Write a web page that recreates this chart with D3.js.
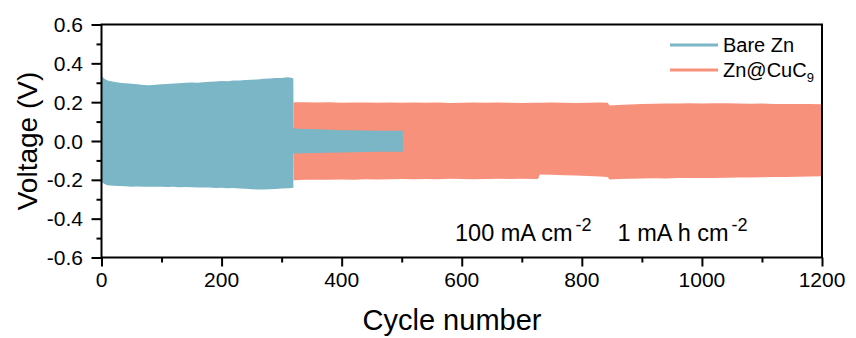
<!DOCTYPE html>
<html>
<head>
<meta charset="utf-8">
<script src="https://cdn.jsdelivr.net/npm/d3@7"></script>
<style>
  html, body { margin: 0; padding: 0; background: #fff; }
  svg { display: block; font-family: "Liberation Sans", Arial, sans-serif; }
</style>
</head>
<body>
<svg id="chart" width="856" height="338"></svg>
<script>
// ---- data ----
const xTicks = [0, 200, 400, 600, 800, 1000, 1200];
const yTicks = [-0.6, -0.4, -0.2, 0.0, 0.2, 0.4, 0.6];

// Bare Zn: envelope of the voltage oscillation (upper / lower)
const bareCycles = [0, 2, 5, 10, 20, 30, 40, 50, 60, 70, 80, 90, 100, 110, 120, 130, 140, 150, 160, 170, 180, 190, 200, 210, 220, 230, 240, 250, 260, 270, 280, 290, 300, 310, 318, 319.5, 320, 340, 360, 380, 400, 420, 440, 460, 480, 502];
const bareUpper  = [0.335, 0.33, 0.32, 0.312, 0.305, 0.300, 0.298, 0.295, 0.292, 0.288, 0.287, 0.290, 0.292, 0.293, 0.296, 0.298, 0.300, 0.301, 0.300, 0.303, 0.305, 0.307, 0.309, 0.308, 0.311, 0.312, 0.314, 0.316, 0.317, 0.320, 0.322, 0.324, 0.325, 0.328, 0.325, 0.32, 0.065, 0.062, 0.060, 0.058, 0.056, 0.055, 0.054, 0.053, 0.053, 0.053];
const bareLower  = [-0.205, -0.215, -0.222, -0.228, -0.230, -0.232, -0.233, -0.235, -0.234, -0.236, -0.235, -0.236, -0.236, -0.237, -0.236, -0.238, -0.237, -0.238, -0.239, -0.240, -0.240, -0.242, -0.241, -0.243, -0.242, -0.244, -0.246, -0.248, -0.250, -0.250, -0.249, -0.247, -0.245, -0.243, -0.242, -0.24, -0.065, -0.063, -0.062, -0.060, -0.059, -0.058, -0.057, -0.056, -0.056, -0.056];

// Zn@CuC9: envelope of the voltage oscillation (upper / lower)
const cucCycles = [320, 340, 360, 380, 400, 420, 440, 460, 480, 500, 520, 540, 560, 580, 600, 620, 640, 660, 680, 700, 720, 727, 730, 750, 770, 790, 810, 830, 843, 846, 860, 880, 900, 920, 940, 960, 980, 1000, 1020, 1040, 1060, 1080, 1100, 1120, 1140, 1160, 1180, 1200];
const cucUpper  = [0.200, 0.199, 0.198, 0.199, 0.197, 0.198, 0.198, 0.197, 0.198, 0.197, 0.198, 0.197, 0.198, 0.196, 0.197, 0.198, 0.197, 0.198, 0.197, 0.196, 0.197, 0.197, 0.197, 0.198, 0.197, 0.196, 0.197, 0.198, 0.197, 0.183, 0.186, 0.188, 0.190, 0.192, 0.193, 0.193, 0.194, 0.193, 0.194, 0.195, 0.193, 0.192, 0.193, 0.191, 0.190, 0.191, 0.190, 0.189];
const cucLower  = [-0.202, -0.200, -0.199, -0.200, -0.198, -0.199, -0.197, -0.198, -0.197, -0.196, -0.197, -0.196, -0.197, -0.195, -0.196, -0.197, -0.196, -0.195, -0.196, -0.195, -0.196, -0.196, -0.172, -0.174, -0.176, -0.178, -0.180, -0.183, -0.185, -0.198, -0.196, -0.195, -0.193, -0.192, -0.193, -0.191, -0.190, -0.191, -0.190, -0.189, -0.188, -0.188, -0.187, -0.186, -0.185, -0.184, -0.183, -0.182];

const seriesNames = ["Bare Zn", "Zn@CuC"];
const annotation = ["100 mA cm", "-2", "1 mA h cm", "-2"];

// ---- layout ----
const svg = d3.select("#chart");
const m = { left: 101.5, right: 822, top: 24.5, bottom: 257.5 };
const x = d3.scaleLinear().domain([0, 1200]).range([m.left, m.right]);
const y = d3.scaleLinear().domain([-0.6, 0.6]).range([m.bottom, m.top]);

const blue = "#7ab6c6";
const red = "#f8917b";

svg.append("clipPath").attr("id", "clip")
  .append("rect").attr("x", m.left).attr("y", m.top)
  .attr("width", m.right - m.left).attr("height", m.bottom - m.top);

const area = d3.area()
  .x(d => x(d.c)).y0(d => y(d.lo)).y1(d => y(d.hi));

const cucData = cucCycles.map((c, i) => ({ c, hi: cucUpper[i], lo: cucLower[i] }));
const bareData = bareCycles.map((c, i) => ({ c, hi: bareUpper[i], lo: bareLower[i] }));

const g = svg.append("g").attr("clip-path", "url(#clip)");
g.append("path").datum(cucData).attr("d", area).attr("fill", red);
g.append("path").datum(bareData).attr("d", area).attr("fill", blue);

// ---- axes ----
const fontTick = 21;
const xAxis = svg.append("g").attr("transform", `translate(0,${m.bottom})`)
  .call(d3.axisBottom(x).tickValues(d3.range(0, 1201, 100))
    .tickSizeInner(5).tickSizeOuter(0).tickFormat(""));
xAxis.select(".domain").remove();
xAxis.selectAll(".tick line")
  .attr("y2", d => xTicks.includes(d) ? 9 : 5)
  .attr("stroke", "#000").attr("stroke-width", 2);
xTicks.forEach(v => {
  svg.append("text").attr("x", x(v)).attr("y", 287)
    .attr("text-anchor", "middle").attr("font-size", fontTick).text(d3.format("d")(v));
});

const yAxis = svg.append("g").attr("transform", `translate(${m.left},0)`)
  .call(d3.axisLeft(y).tickValues(d3.range(-6, 7, 1).map(k => k / 10))
    .tickSizeInner(5).tickSizeOuter(0).tickFormat(""));
yAxis.select(".domain").remove();
yAxis.selectAll(".tick line")
  .attr("x2", d => Math.round(d * 10) % 2 === 0 ? -10 : -5)
  .attr("stroke", "#000").attr("stroke-width", 2);
yTicks.forEach(v => {
  svg.append("text").attr("x", 83).attr("y", y(v) + 7.5)
    .attr("text-anchor", "end").attr("font-size", fontTick)
    .text(d3.format(".1f")(v).replace("\u2212", "-"));
});

// frame
svg.append("rect").attr("x", m.left).attr("y", m.top)
  .attr("width", m.right - m.left).attr("height", m.bottom - m.top)
  .attr("fill", "none").attr("stroke", "#000").attr("stroke-width", 2);

// axis titles
svg.append("text").attr("x", 452).attr("y", 330).attr("text-anchor", "middle")
  .attr("font-size", 29).text("Cycle number");
svg.append("text").attr("transform", "translate(37,141) rotate(-90)")
  .attr("text-anchor", "middle").attr("font-size", 28).text("Voltage (V)");

// legend
const leg = [{ name: seriesNames[0], color: blue, y: 45 }, { name: seriesNames[1], color: red, y: 70 }];
leg.forEach((d, i) => {
  svg.append("line").attr("x1", 670).attr("x2", 718).attr("y1", d.y).attr("y2", d.y)
    .attr("stroke", d.color).attr("stroke-width", 3);
  const t = svg.append("text").attr("x", 723).attr("y", d.y + 7).attr("font-size", 20).text(d.name);
  if (i === 1) t.append("tspan").attr("font-size", 13).attr("dy", 5).text("9");
});

// annotation
const ann = svg.append("text").attr("x", 455).attr("y", 241).attr("font-size", 23.5);
ann.append("tspan").text(annotation[0]);
ann.append("tspan").attr("font-size", 18).attr("dx", 3).attr("dy", -10).text(annotation[1]);
ann.append("tspan").attr("dy", 10).attr("dx", 26).text(annotation[2]);
ann.append("tspan").attr("font-size", 18).attr("dx", 3).attr("dy", -10).text(annotation[3]);
</script>
</body>
</html>
